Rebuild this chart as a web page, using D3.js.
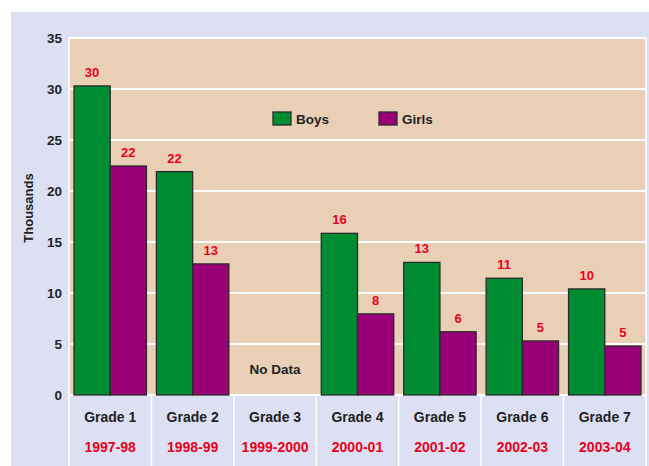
<!DOCTYPE html>
<html>
<head>
<meta charset="utf-8">
<script src="https://cdn.jsdelivr.net/npm/d3@7"></script>
<style>
  body { margin: 0; background: #ffffff; }
  svg { display: block; font-family: "Liberation Sans", Arial, sans-serif; font-weight: bold; }
</style>
</head>
<body>
<script>
const grades = ["Grade 1", "Grade 2", "Grade 3", "Grade 4", "Grade 5", "Grade 6", "Grade 7"]
const years = ["1997-98", "1998-99", "1999-2000", "2000-01", "2001-02", "2002-03", "2003-04"]
const boys = [30.3, 21.9, null, 15.85, 13.0, 11.45, 10.4]
const girls = [22.45, 12.85, null, 7.95, 6.2, 5.3, 4.8]
const series = ["Boys", "Girls"]
const yTicks = [0, 5, 10, 15, 20, 25, 30, 35]

const svgWidth = 649
const svgHeight = 466

const margin = {
    top: 38,
    right: 3,
    bottom: 71,
    left: 69
    }

const chartWidth = svgWidth - margin.left - margin.right
const chartHeight = svgHeight - margin.top - margin.bottom

const colors = { Boys: "#008c32", Girls: "#990077" }

const svg = d3.select("body").append("svg")
    .attr("width", svgWidth)
    .attr("height", svgHeight)

// outer panel
svg.append("rect")
    .attr("x", 11)
    .attr("y", 12)
    .attr("width", svgWidth - 11)
    .attr("height", svgHeight - 12)
    .attr("fill", "#dde0f2")

const chartG = svg.append("g")
    .attr("transform", `translate(${margin.left}, ${margin.top})`)

const x = d3.scaleBand()
    .domain(grades)
    .range([0, chartWidth])
    .padding(0)

const x1 = d3.scaleBand()
    .domain(series)
    .range([5, x.bandwidth() - 5])
    .padding(0)

const y = d3.scaleLinear()
    .domain([0, 35])
    .range([chartHeight, 0])

chartG.append("rect")
    .attr("width", chartWidth)
    .attr("height", chartHeight)
    .attr("fill", "#e8cfb6")
    .attr("stroke", "#ffffff")
    .attr("stroke-width", 1.5)

// gridlines
chartG.append("g")
    .selectAll("line")
    .data(yTicks)
    .join("line")
    .attr("x1", 0)
    .attr("x2", chartWidth)
    .attr("y1", d => y(d))
    .attr("y2", d => y(d))
    .attr("stroke", "#ffffff")
    .attr("stroke-width", 2)

// category separators below plot
chartG.append("g")
    .selectAll("line")
    .data([...grades.map(g => x(g)), chartWidth])
    .join("line")
    .attr("x1", d => d)
    .attr("x2", d => d)
    .attr("y1", chartHeight)
    .attr("y2", svgHeight - margin.top)
    .attr("stroke", "#ffffff")
    .attr("stroke-width", 1.5)

// y axis
const yAxis = d3.axisLeft(y).tickValues(yTicks).tickSize(0).tickPadding(7)
chartG.append("g")
    .call(yAxis)
    .call(g => g.select(".domain").remove())
    .call(g => g.selectAll("text")
        .attr("font-size", 13.5)
        .attr("font-family", "Liberation Sans, Arial, sans-serif")
        .attr("font-weight", "bold")
        .attr("fill", "#222222"))

svg.append("text")
    .attr("transform", "translate(33, 208) rotate(-90)")
    .attr("text-anchor", "middle")
    .attr("font-size", 13)
    .attr("fill", "#222222")
    .text("Thousands")

// bars
const rows = grades.map((g, i) => ({ grade: g, Boys: boys[i], Girls: girls[i] }))

const groups = chartG.append("g")
    .selectAll("g")
    .data(rows)
    .join("g")
    .attr("transform", d => `translate(${x(d.grade)}, 0)`)

groups.selectAll("rect")
    .data(d => series.map(s => ({ key: s, value: d[s] })).filter(v => v.value != null))
    .join("rect")
    .attr("x", d => x1(d.key))
    .attr("width", x1.bandwidth())
    .attr("y", d => y(d.value))
    .attr("height", d => chartHeight - y(d.value))
    .attr("fill", d => colors[d.key])
    .attr("stroke", "#2a2a2a")
    .attr("stroke-width", 1.3)

groups.selectAll("text")
    .data(d => series.map(s => ({ key: s, value: d[s] })).filter(v => v.value != null))
    .join("text")
    .attr("x", d => x1(d.key) + x1.bandwidth() / 2)
    .attr("y", d => y(d.value) - 9)
    .attr("text-anchor", "middle")
    .attr("font-size", 13)
    .attr("fill", "#e8001c")
    .text(d => Math.round(d.value))

// no data note
rows.filter(d => d.Boys == null && d.Girls == null).forEach(d => {
    chartG.append("text")
        .attr("x", x(d.grade) + x.bandwidth() / 2)
        .attr("y", y(2.1))
        .attr("text-anchor", "middle")
        .attr("font-size", 13.5)
        .attr("fill", "#222222")
        .text("No Data")
})

// category labels
chartG.append("g")
    .selectAll("text")
    .data(grades)
    .join("text")
    .attr("x", d => x(d) + x.bandwidth() / 2)
    .attr("y", chartHeight + 27)
    .attr("text-anchor", "middle")
    .attr("font-size", 14)
    .attr("fill", "#222222")
    .text(d => d)

chartG.append("g")
    .selectAll("text")
    .data(years)
    .join("text")
    .attr("x", (d, i) => x(grades[i]) + x.bandwidth() / 2)
    .attr("y", chartHeight + 57)
    .attr("text-anchor", "middle")
    .attr("font-size", 14)
    .attr("fill", "#e8001c")
    .text(d => d)

// legend
const legendX = [273, 379]
const legend = svg.append("g")
    .selectAll("g")
    .data(series)
    .join("g")
    .attr("transform", (d, i) => `translate(${legendX[i]}, 112)`)

legend.append("rect")
    .attr("width", 18)
    .attr("height", 13)
    .attr("fill", d => colors[d])
    .attr("stroke", "#2a2a2a")
    .attr("stroke-width", 1.3)

legend.append("text")
    .attr("x", 23)
    .attr("y", 12)
    .attr("font-size", 13.5)
    .attr("fill", "#222222")
    .text(d => d)
</script>
</body>
</html>
